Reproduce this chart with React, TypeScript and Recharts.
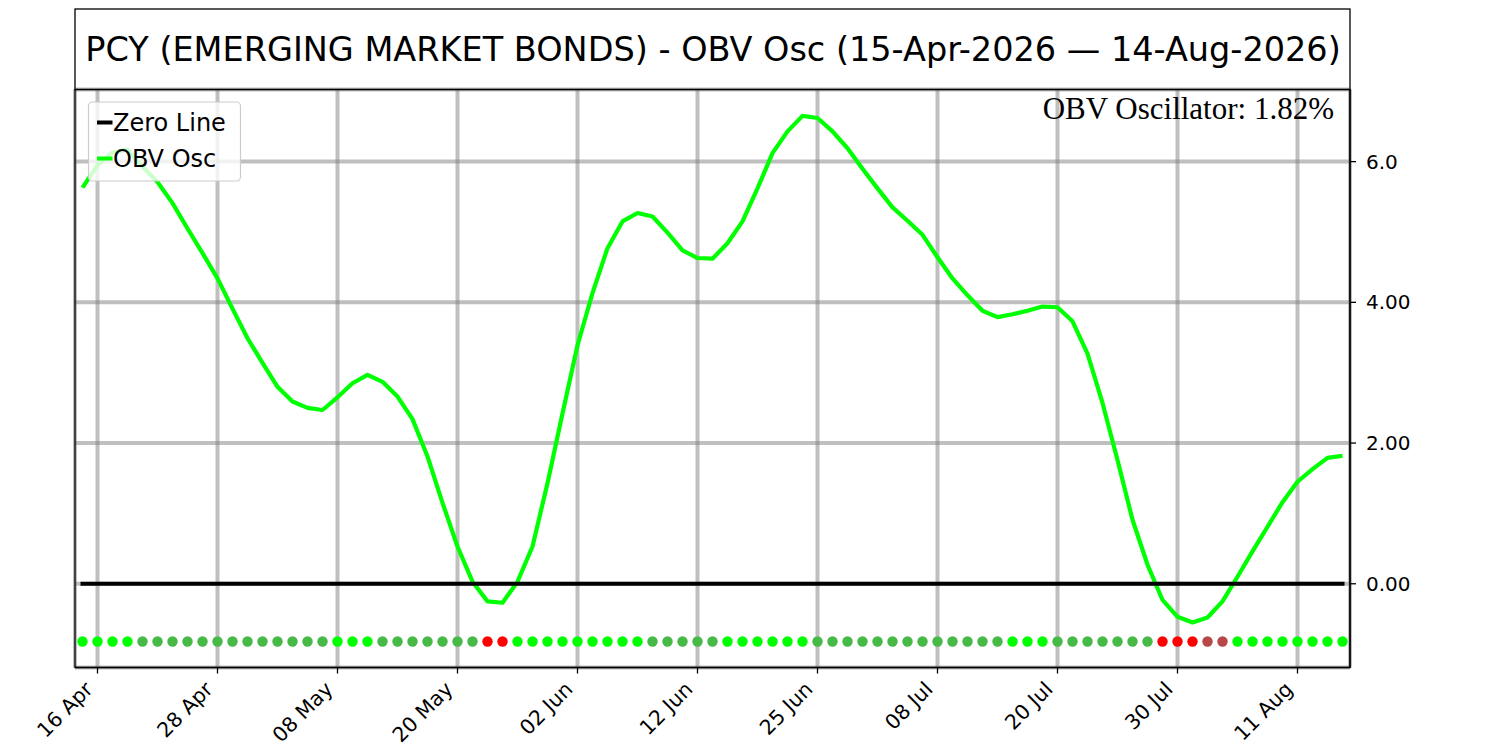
import React from 'react';
import {
  ComposedChart,
  Line,
  Scatter,
  XAxis,
  YAxis,
  CartesianGrid,
} from 'recharts';

const TITLE = 'PCY (EMERGING MARKET BONDS) - OBV Osc (15-Apr-2026 — 14-Aug-2026)';

// OBV oscillator, one value per trading day (15 Apr .. 14 Aug 2026)
const OBV_OSC = [
  5.63, 5.95, 6.13, 6.17, 5.93, 5.71, 5.41, 5.05, 4.70, 4.34,
  3.91, 3.49, 3.14, 2.80, 2.59, 2.50, 2.47, 2.65, 2.85, 2.97,
  2.87, 2.66, 2.34, 1.81, 1.15, 0.53, 0.03, -0.25, -0.27, 0.03,
  0.53, 1.43, 2.42, 3.39, 4.13, 4.77, 5.15, 5.27, 5.22, 4.99,
  4.74, 4.63, 4.62, 4.84, 5.15, 5.62, 6.12, 6.43, 6.65, 6.62,
  6.43, 6.19, 5.90, 5.62, 5.35, 5.16, 4.96, 4.64, 4.34, 4.10,
  3.88, 3.79, 3.83, 3.88, 3.94, 3.93, 3.73, 3.27, 2.57, 1.76,
  0.91, 0.27, -0.23, -0.47, -0.55, -0.48, -0.25, 0.10, 0.46, 0.81,
  1.16, 1.45, 1.63, 1.79, 1.82,
];

const X_TICKS = [1, 9, 17, 25, 33, 41, 49, 57, 65, 73, 81];
const X_TICK_LABELS = ['16 Apr', '28 Apr', '08 May', '20 May', '02 Jun', '12 Jun', '25 Jun', '08 Jul', '20 Jul', '30 Jul', '11 Aug'];
const Y_TICKS = [0, 2, 4, 6];
const Y_TICK_LABELS = ['0.00', '2.00', '4.00', '6.0'];

// row of signal dots under the zero line
const SIGNAL_LEVEL = -0.82;

const COLORS = {
  upPos: '#00ff00',
  downPos: '#47b947',
  downNeg: '#ff0000',
  upNeg: '#b84747',
};

const signalColor = (v: number, prev: number | undefined) => {
  const rising = prev === undefined || v >= prev;
  if (v >= 0) return rising ? COLORS.upPos : COLORS.downPos;
  return rising ? COLORS.upNeg : COLORS.downNeg;
};

const rows = OBV_OSC.map((v, i) => ({
  i,
  osc: v,
  zero: 0,
  sig: SIGNAL_LEVEL,
  color: signalColor(v, OBV_OSC[i - 1]),
}));

const FONT = '"DejaVu Sans", sans-serif';

const XTick = (props: any) => {
  const { x, y, payload } = props;
  const label = X_TICK_LABELS[X_TICKS.indexOf(payload.value)];
  return (
    <text
      transform={`translate(${x - 3.5},${y + 15}) rotate(-45)`}
      textAnchor="end"
      fontSize={20.5}
      fontFamily={FONT}
      fill="#000"
    >
      {label}
    </text>
  );
};

const SignalDot = (props: any) => {
  const { cx, cy, payload } = props;
  return <circle cx={cx} cy={cy} r={5.2} fill={payload.color} />;
};

export default function App() {
  const last = OBV_OSC[OBV_OSC.length - 1];
  return (
    <div style={{ position: 'absolute', left: 0, top: 0, width: 1500, height: 750, background: '#fff' }}>
      <ComposedChart
        width={1500}
        height={750}
        data={rows}
        margin={{ top: 89.5, right: 0, bottom: 0, left: 75 }}
      >
        <CartesianGrid stroke="#808080" strokeOpacity={0.5} strokeWidth={4} />
        <XAxis
          type="number"
          dataKey="i"
          domain={[-0.5, 84.5]}
          ticks={X_TICKS}
          interval={0}
          height={82.5}
          allowDataOverflow
          axisLine={{ stroke: '#000', strokeWidth: 1.3 }}
          tickLine={{ stroke: '#000', strokeWidth: 1.3 }}
          tickSize={6}
          tick={<XTick />}
        />
        <YAxis
          orientation="right"
          type="number"
          domain={[-1.19, 7.025]}
          ticks={Y_TICKS}
          interval={0}
          width={150}
          allowDataOverflow
          axisLine={{ stroke: '#000', strokeWidth: 1.3 }}
          tickLine={{ stroke: '#000', strokeWidth: 1.3 }}
          tickSize={6}
          tickMargin={10}
          tickFormatter={(v: number) => Y_TICK_LABELS[Y_TICKS.indexOf(v)]}
          tick={{ fontSize: 20, fill: '#000', fontFamily: FONT }}
        />
        <Line
          type="linear"
          dataKey="osc"
          stroke="#00ff00"
          strokeWidth={4.2}
          strokeLinejoin="round"
          dot={false}
          activeDot={false}
          isAnimationActive={false}
        />
        <Line
          type="linear"
          dataKey="zero"
          stroke="#000"
          strokeWidth={4}
          strokeLinecap="square"
          dot={false}
          activeDot={false}
          isAnimationActive={false}
        />
        <Scatter dataKey="sig" shape={<SignalDot />} isAnimationActive={false} />
      </ComposedChart>

      <svg
        width={1500}
        height={750}
        style={{ position: 'absolute', left: 0, top: 0, pointerEvents: 'none' }}
      >
        {/* title box */}
        <rect x={75} y={9} width={1275} height={80.5} fill="none" stroke="#000" strokeWidth={1.3} />
        <text x={713} y={61} textAnchor="middle" fontSize={33.5} fontFamily={FONT} fill="#000">
          {TITLE}
        </text>
        {/* axes frame */}
        <rect x={75} y={89.5} width={1275} height={578} fill="none" stroke="#000" strokeWidth={1.3} />

        {/* legend */}
        <rect x={88.5} y={102} width={152} height={79} rx={4} fill="#fff" fillOpacity={0.8} stroke="#cccccc" strokeWidth={1.2} />
        <line x1={97} x2={112.5} y1={122.5} y2={122.5} stroke="#000" strokeWidth={4} />
        <text x={113} y={130.5} fontSize={24} fontFamily={FONT} fill="#000">Zero Line</text>
        <line x1={97} x2={112.5} y1={158.5} y2={158.5} stroke="#00ff00" strokeWidth={4} />
        <text x={113} y={166.5} fontSize={24} fontFamily={FONT} fill="#000">OBV Osc</text>

        {/* current value annotation */}
        <text
          x={1334}
          y={118.5}
          textAnchor="end"
          fontSize={31}
          fontFamily='"Liberation Serif", "Times New Roman", serif'
          fill="#000"
        >
          {`OBV Oscillator: ${last.toFixed(2)}%`}
        </text>
      </svg>
    </div>
  );
}
